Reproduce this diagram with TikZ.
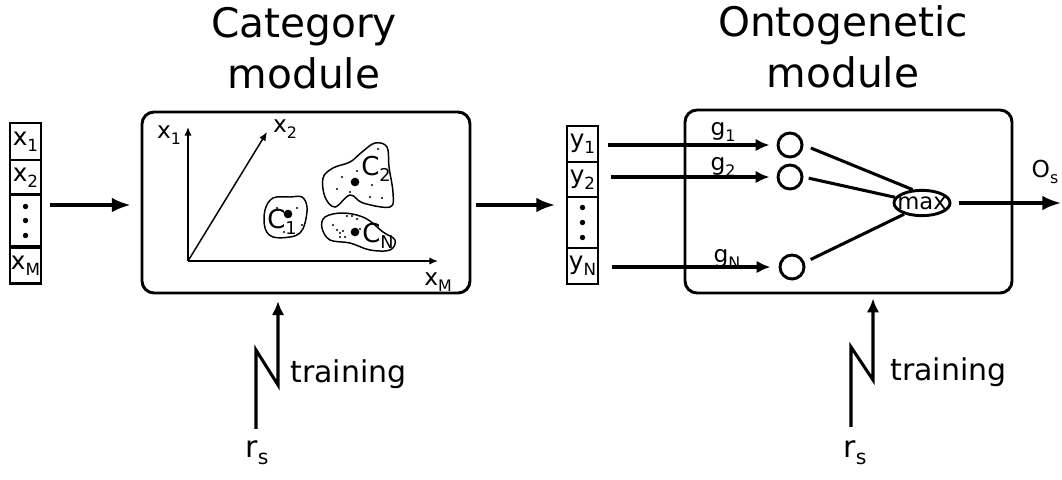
\documentclass[tikz,border=0pt]{standalone}
\usepackage{fontspec}
\setmainfont{DejaVu Sans}
\usetikzlibrary{arrows.meta,shapes.geometric,calc}
% lowered, reduced index after a letter
\newcommand\lsub[1]{\raisebox{-0.26em}{\scalebox{0.68}{#1}}}
\begin{document}
\begin{tikzpicture}[x=0.75pt,y=-0.75pt,
  cell/.style={draw, line width=2pt, minimum width=23.25pt, inner sep=0pt, outer sep=0pt,
               font=\fontsize{18.5}{20}\selectfont},
  module/.style={draw, line width=2.2pt, rounded corners=9pt, inner sep=0pt},
  title/.style={font=\fontsize{30.5}{36}\selectfont, anchor=base, inner sep=0pt},
  lbl/.style={font=\fontsize{17.5}{20}\selectfont, anchor=base, inner sep=0pt},
  clbl/.style={font=\fontsize{19.5}{22}\selectfont, anchor=base, inner sep=0pt},
  big/.style={font=\fontsize{22.5}{26}\selectfont, anchor=base, inner sep=0pt},
  arr/.style={line width=2.3pt, -{Latex[length=14pt,width=11pt]}},
  sarr/.style={line width=2.3pt, -{Latex[length=10.5pt,width=9.5pt]}},
  axis/.style={line width=1.1pt, -{Latex[length=6.5pt,width=5.5pt]}},
  wire/.style={line width=2.3pt},
  unit/.style={circle, draw, line width=2.2pt, minimum size=18pt, inner sep=0pt},
  blob/.style={line width=1.1pt},
  pt/.style={fill, circle, inner sep=0pt, minimum size=1.7pt},
  centre/.style={fill, circle, inner sep=0pt, minimum size=6.5pt},
]
\useasboundingbox (0,0) rectangle (1062,479);

% titles
\node[title] (t1a) at (304,37) {Category};
\node[title] (t1b) at (304,88) {module};
\node[title] (t2a) at (843,36) {Ontogenetic};
\node[title] (t2b) at (843,87) {module};

% input feature vector
\node[cell, minimum height=27.75pt] (x1) at (25.5,141.5) {x\lsub{1}};
\node[cell, minimum height=26.25pt] (x2) at (25.5,177.5) {x\lsub{2}};
\node[cell, minimum height=39pt]    (xd) at (25.5,220.5) {};
\node[cell, minimum height=27pt]    (xm) at (25.5,265.5) {x\lsub{M}};
\foreach \d in {-14,0,15} \fill ($(xd.center)+(0,\d)$) circle (2.7);

% category module
\node[module, minimum width=246pt, minimum height=135.75pt] (cat) at (306,202.5) {};
\coordinate (o) at (188,261);
\coordinate (a1) at (188,127);
\coordinate (a2) at (267,132);
\coordinate (am) at (438,261);
\draw[axis] (o) -- (a1);
\draw[axis] (o) -- (a2);
\draw[axis] (o) -- (am);
\node[lbl] (lx1) at (169,138) {x\lsub{1}};
\node[lbl] (lx2) at (285,132) {x\lsub{2}};
\node[lbl] (lxm) at (438,285) {x\lsub{M}};

% clusters
\draw[blob] plot[smooth cycle, tension=0.6] coordinates {(273,198) (290,197) (302,197) (307,207) (305,223)
  (300,233) (290,237) (273,237) (265,228) (265,210)};
\draw[blob] plot[smooth cycle, tension=0.6] coordinates {(375,143) (387,147) (389,167) (393,193) (390,207)
  (363,203) (350,195) (335,207) (325,197) (323,178) (333,168) (350,162) (362,152)};
\draw[blob] plot[smooth cycle, tension=0.6] coordinates {(325,217) (343,213) (365,218) (383,232) (395,240)
  (390,250) (370,250) (350,243) (330,240) (322,228)};
\foreach \p in {(277,208),(297,208),(302,225),(284,232),
                (378,149),(357,171),(342,177),(337,189),(350,192),(372,185),(370,197),(382,198),
                (333,225),(347,216),(352,216),(357,219),(337,230),(340,233),(343,231),(345,237),(340,237),(360,229)}
  \node[pt] at \p {};
\node[centre] (k1) at (288,214) {};
\node[centre] (k2) at (355,182) {};
\node[centre] (kn) at (355,232) {};
\node[clbl] (lc1) at (282,228) {C\lsub{1}};
\node[clbl] (lc2) at (376,175) {C\lsub{2}};
\node[clbl] (lcn) at (378,242) {C\lsub{N}};

\draw[arr] ($(xd.east |- cat.west)+(9,2.5)$) -- ($(cat.west)+(-10,2.5)$);

% category vector
\node[cell, minimum height=27pt]    (y1) at (582.5,144) {y\lsub{1}};
\node[cell, minimum height=26.25pt] (y2) at (582.5,179.5) {y\lsub{2}};
\node[cell, minimum height=38.25pt] (yd) at (582.5,222.5) {};
\node[cell, minimum height=27pt]    (yn) at (582.5,266) {y\lsub{N}};
\foreach \d in {-15,0,15} \fill ($(yd.center)+(0,\d)$) circle (2.7);

\draw[arr] ($(cat.east)+(5,2.5)$) -- ($(yd.west |- cat.east)+(-12,2.5)$);

% ontogenetic module
\node[module, minimum width=245.25pt, minimum height=137.25pt] (ont) at (848.5,201.5) {};
\node[unit] (c1) at (790,145) {};
\node[unit] (c2) at (790,177) {};
\node[unit] (cn) at (792,267) {};
\node[ellipse, draw, line width=2.2pt, minimum width=42pt, minimum height=19pt, inner sep=0pt] (mx) at (922,203) {};
\node[font=\fontsize{17}{20}\selectfont, inner sep=0pt] (mxt) at (mx) {max};

\draw[sarr] ($(y1.east |- c1.west)+(10,0)$) -- ($(c1.west)+(-7,0)$);
\draw[sarr] ($(y2.east |- c2.west)+(13,0)$) -- ($(c2.west)+(-7,0)$);
\draw[sarr] ($(yn.east |- cn.west)+(14,0)$) -- ($(cn.west)+(-8,0)$);
\node[lbl] (g1) at (723,135) {g\lsub{1}};
\node[lbl] (g2) at (723,170) {g\lsub{2}};
\node[lbl] (gn) at (727,262) {g\lsub{N}};

\draw[wire, shorten <=6pt] (c1.east) -- (mx.125);
\draw[wire, shorten <=4pt] (c2.east) -- (mx.168);
\draw[wire, shorten <=5pt] (cn.20) -- (mx.212);

\coordinate (out) at (1061,203);
\draw[arr, shorten <=6pt] (mx.east) -- (out);
\node[lbl] (os) at (1045,177) {O\lsub{s}};

% training signals
\node[big] (rsA) at (257,457) {r\lsub{s}};
\coordinate (zA1) at (256,350);
\coordinate (zA2) at (278,385);
\draw[sarr, shorten >=5pt] ($(rsA.north -| zA1)+(0,-11)$) -- (zA1) -- (zA2) -- (zA2 |- cat.south);
\node[big, anchor=base west] (trA) at (290,382) {training};

\node[big] (rsB) at (855,457) {r\lsub{s}};
\coordinate (zB1) at (851,347);
\coordinate (zB2) at (873,380);
\draw[sarr, shorten >=3pt] ($(rsB.north -| zB1)+(0,-13)$) -- (zB1) -- (zB2) -- (zB2 |- ont.south);
\node[big, anchor=base west] (trB) at (890,380) {training};
\end{tikzpicture}
\end{document}
